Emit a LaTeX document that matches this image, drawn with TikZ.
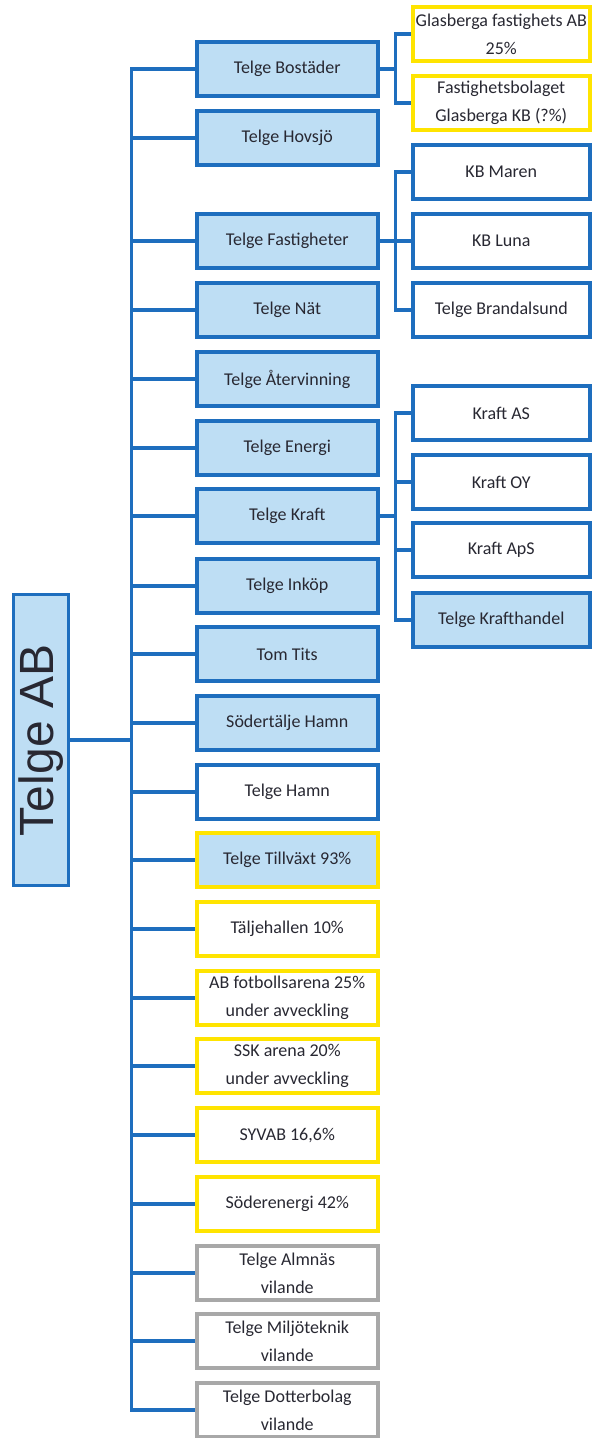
\documentclass[tikz,border=0pt]{standalone}
\usepackage{fontspec}
\setmainfont{Carlito}
\newfontfamily\arialfont{Liberation Sans}
\begin{document}
\begin{tikzpicture}[x=1pt,y=-1pt]
\definecolor{bborder}{RGB}{30,110,190}
\definecolor{bfill}{RGB}{190,222,244}
\definecolor{yborder}{RGB}{255,228,0}
\definecolor{gborder}{RGB}{168,168,168}
\definecolor{txt}{RGB}{40,40,50}
\tikzset{
  box/.style={draw=bborder, line width=3.5pt, minimum width=181pt, minimum height=54pt, inner sep=0pt, align=center, font=\fontsize{18}{28}\selectfont, text=txt, anchor=west},
  mid/.style={box},
  rbox/.style={box, minimum width=177pt},
  bluefill/.style={fill=bfill},
  yel/.style={draw=yborder},
  gry/.style={draw=gborder},
  conn/.style={draw=bborder, line width=3.5pt}
}
\useasboundingbox (0,0) rectangle (592,1438);
% root
\node[draw=bborder, fill=bfill, line width=3.5pt, minimum width=55pt, minimum height=291pt, inner sep=0pt] (ab) at (41,740) {};
\node[rotate=90, font=\arialfont\fontsize{48}{48}\selectfont, text=txt] (abt) at (ab.center) {Telge AB};
% middle column
\node[mid,bluefill] (m1) at (195,69) {Telge Bostäder};
\node[mid,bluefill] (m2) at (195,138) {Telge Hovsjö};
\node[mid,bluefill] (m3) at (195,241) {Telge Fastigheter};
\node[mid,bluefill] (m4) at (195,310) {Telge Nät};
\node[mid,bluefill] (m5) at (195,379) {Telge Återvinning};
\node[mid,bluefill] (m6) at (195,448) {Telge Energi};
\node[mid,bluefill] (m7) at (195,516) {Telge Kraft};
\node[mid,bluefill] (m8) at (195,586) {Telge Inköp};
\node[mid,bluefill] (m9) at (195,654) {Tom Tits};
\node[mid,bluefill] (m10) at (195,723) {Södertälje Hamn};
\node[mid] (m11) at (195,792) {Telge Hamn};
\node[mid,bluefill,yel] (m12) at (195,860) {Telge Tillväxt 93\%};
\node[mid,yel] (m13) at (195,929) {Täljehallen 10\%};
\node[mid,yel] (m14) at (195,998) {AB fotbollsarena 25\%\\under avveckling};
\node[mid,yel] (m15) at (195,1066) {SSK arena 20\%\\under avveckling};
\node[mid,yel] (m16) at (195,1135) {SYVAB 16,6\%};
\node[mid,yel] (m17) at (195,1204) {Söderenergi 42\%};
\node[mid,gry] (m18) at (195,1273) {Telge Almnäs\\vilande};
\node[mid,gry] (m19) at (195,1341) {Telge Miljöteknik\\vilande};
\node[mid,gry] (m20) at (195,1410) {Telge Dotterbolag\\vilande};
% right column
\node[rbox,yel] (r1) at (411,34) {Glasberga fastighets AB\\25\%};
\node[rbox,yel] (r2) at (411,103) {Fastighetsbolaget\\Glasberga KB (?\%)};
\node[rbox] (r3) at (411,172) {KB Maren};
\node[rbox] (r4) at (411,241) {KB Luna};
\node[rbox] (r5) at (411,310) {Telge Brandalsund};
\node[rbox] (r6) at (411,413) {Kraft AS};
\node[rbox] (r7) at (411,482) {Kraft OY};
\node[rbox] (r8) at (411,550) {Kraft ApS};
\node[rbox,bluefill] (r9) at (411,620) {Telge Krafthandel};
% connectors
\foreach \i in {1,...,20} {
  \draw[conn] (ab.east) -- ++(61,0) |- (m\i.west);
}
\foreach \i in {1,2} { \draw[conn] (m1.east) -- ++(16,0) |- (r\i.west); }
\foreach \i in {3,4,5} { \draw[conn] (m3.east) -- ++(16,0) |- (r\i.west); }
\foreach \i in {6,7,8,9} { \draw[conn] (m7.east) -- ++(16,0) |- (r\i.west); }
\end{tikzpicture}
\end{document}
